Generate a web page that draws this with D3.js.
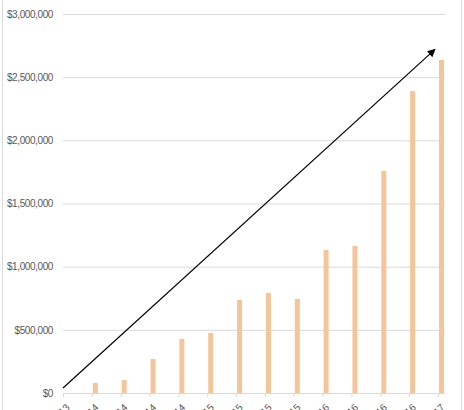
<!DOCTYPE html>
<html>
<head>
<meta charset="utf-8">
<script src="https://cdn.jsdelivr.net/npm/d3@7"></script>
<style>
  body { margin: 0; background: #fff; }
  svg { display: block; font-family: "Liberation Sans", Arial, sans-serif; }
</style>
</head>
<body>
<svg id="chart"></svg>
<script>
// quarter-end months, first one has no bar
var categories = ["Dec-13", "Mar-14", "Jun-14", "Sep-14", "Dec-14", "Mar-15", "Jun-15",
    "Sep-15", "Dec-15", "Mar-16", "Jun-16", "Sep-16", "Dec-16", "Mar-17"];
var revenue = [0, 80000, 103000, 269000, 428000, 475000, 736000,
    792000, 744000, 1132000, 1164000, 1758000, 2391000, 2637000];
var yTicks = [0, 500000, 1000000, 1500000, 2000000, 2500000, 3000000];
// trend arrow, start and end in data terms
var trendCats = ["Dec-13", "Mar-17"];
var trendValues = [40000, 2720000];

var width = 464, height = 410;

var svg = d3.select("#chart")
    .attr("width", width)
    .attr("height", height);

var x = d3.scalePoint()
    .domain(categories)
    .range([63, 438]);

var y = d3.scaleLinear()
    .domain([0, 3000000])
    .range([393, 14]);

var barOffset = 3.5, barWidth = 5;

// outer frame edges
svg.append("line")
    .attr("x1", 2.5).attr("x2", 2.5).attr("y1", 0).attr("y2", height)
    .attr("stroke", "#d9d9d9");
svg.append("line")
    .attr("x1", 461.5).attr("x2", 461.5).attr("y1", 0).attr("y2", height)
    .attr("stroke", "#d9d9d9");

// title, cropped off the top in the original
svg.append("text")
    .attr("x", 232)
    .attr("y", -1)
    .attr("text-anchor", "middle")
    .attr("fill", "#d0d0d0")
    .style("font-size", "18px")
    .text("Chart Title");

// gridlines + y labels
var yAxis = d3.axisLeft(y)
    .tickValues(yTicks)
    .tickSize(-(445 - 63))
    .tickPadding(10)
    .tickFormat(d => "$" + d3.format(",")(d));

svg.append("g")
    .attr("transform", "translate(63,0)")
    .call(yAxis)
    .call(g => g.select(".domain").remove())
    .call(g => g.selectAll(".tick line").attr("stroke", "#d9d9d9"))
    .call(g => g.selectAll(".tick text")
        .attr("fill", "#595959")
        .style("font-size", "10px")
        .style("letter-spacing", "-0.4px"));

// x axis
var xAxis = d3.axisBottom(x)
    .tickSize(4)
    .tickSizeOuter(0);

svg.append("g")
    .attr("transform", "translate(0,393)")
    .call(xAxis)
    .call(g => g.select(".domain").attr("stroke", "#d9d9d9").attr("d", "M63,0.5H445"))
    .call(g => g.selectAll(".tick line").attr("stroke", "#d9d9d9"))
    .call(g => g.selectAll(".tick text")
        .attr("fill", "#595959")
        .style("font-size", "10px")
        .attr("text-anchor", "end")
        .attr("dy", null)
        .attr("transform", "translate(2,10) rotate(-45)"));

// bars
svg.append("g")
    .attr("fill", "#f4c49a")
    .selectAll("rect")
    .data(categories.map((c, i) => ({ cat: c, value: revenue[i] })).filter(d => d.value > 0))
    .join("rect")
    .attr("x", d => x(d.cat) + barOffset - barWidth / 2)
    .attr("y", d => y(d.value))
    .attr("width", barWidth)
    .attr("height", d => y(0) - y(d.value));

// arrow
svg.append("defs").append("marker")
    .attr("id", "arrowhead")
    .attr("viewBox", "0 0 10 10")
    .attr("refX", 9)
    .attr("refY", 5)
    .attr("markerWidth", 10)
    .attr("markerHeight", 8)
    .attr("markerUnits", "userSpaceOnUse")
    .attr("orient", "auto")
    .append("path")
    .attr("d", "M0,0L10,5L0,10z")
    .attr("fill", "#000");

svg.append("line")
    .attr("x1", x(trendCats[0]))
    .attr("y1", y(trendValues[0]))
    .attr("x2", x(trendCats[1]) - 3)
    .attr("y2", y(trendValues[1]))
    .attr("stroke", "#000")
    .attr("stroke-width", 1.2)
    .attr("marker-end", "url(#arrowhead)");
</script>
</body>
</html>
